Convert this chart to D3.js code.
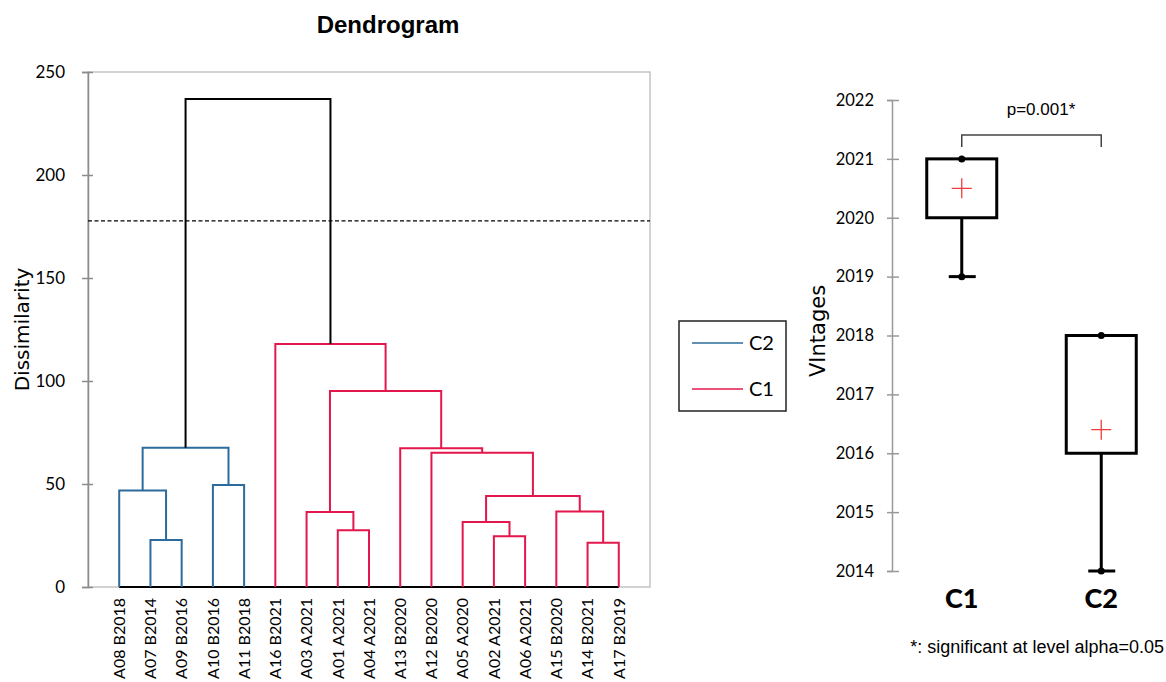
<!DOCTYPE html>
<html>
 <head>
  <meta charset="utf-8" />
  <title>Dendrogram</title>
  <script src="https://cdn.jsdelivr.net/npm/d3@7"></script>
  <style>
    body { margin: 0; background: #fff; }
    text { fill: #000; }
  </style>
 </head>
 <body>
  <script>
    // leaves in drawing order, and the cluster of each one
    var leaves   = ["A08 B2018", "A07 B2014", "A09 B2016", "A10 B2016", "A11 B2018",
                    "A16 B2021", "A03 A2021", "A01 A2021", "A04 A2021", "A13 B2020",
                    "A12 B2020", "A05 A2020", "A02 A2021", "A06 A2021", "A15 B2020",
                    "A14 B2021", "A17 B2019"];
    var clusterOf = ["C2", "C2", "C2", "C2", "C2",
                     "C1", "C1", "C1", "C1", "C1", "C1", "C1", "C1", "C1", "C1", "C1", "C1"];

    // merges: [left node, right node, dissimilarity]; nodes 0..16 are leaves, new nodes start at 17
    var merges = [
      [1, 2, 22.8],    // 17
      [0, 17, 46.8],   // 18
      [3, 4, 49.5],    // 19
      [18, 19, 67.6],  // 20
      [7, 8, 27.5],    // 21
      [6, 21, 36.4],   // 22
      [12, 13, 24.6],  // 23
      [11, 23, 31.6],  // 24
      [15, 16, 21.5],  // 25
      [14, 25, 36.6],  // 26
      [24, 26, 44.2],  // 27
      [10, 27, 65.2],  // 28
      [9, 28, 67.3],   // 29
      [22, 29, 95.1],  // 30
      [5, 30, 118.0],  // 31
      [20, 31, 236.9]  // 32
    ];
    var cutLevel = 177.7;
    var dissTicks = [0, 50, 100, 150, 200, 250];

    var legendItems = ["C2", "C1"];
    var colors = {C2: "#2c6b9c", C1: "#e3174b"};

    // box plot of vintages per class
    var classes   = ["C1", "C2"];
    var vMin      = [2019, 2014];
    var vQ1       = [2020, 2016];
    var vQ3       = [2021, 2018];
    var vMax      = [2021, 2018];
    var vMean     = [2020.5, 2016.4];
    var yearTicks = [2014, 2015, 2016, 2017, 2018, 2019, 2020, 2021, 2022];
    var pText = "p=0.001*";

    var W = 1166, H = 682;
    var svg = d3.select("body").append("svg")
        .attr("width", W).attr("height", H);

    // ---------- dendrogram ----------
    var x = d3.scalePoint().domain(leaves).range([88, 650]).padding(1),
        y = d3.scaleLinear().domain([0, 250]).range([587, 72]);

    svg.append("text")
        .attr("x", 388).attr("y", 33)
        .attr("text-anchor", "middle")
        .style("font", "bold 24px 'Liberation Sans', Arial, sans-serif")
        .text("Dendrogram");

    svg.append("rect")
        .attr("x", 88).attr("y", 72)
        .attr("width", 650 - 88).attr("height", 587 - 72)
        .attr("fill", "none").attr("stroke", "#c4c4c4").attr("stroke-width", 1.5);

    var yAxis = svg.append("g")
        .attr("transform", "translate(88,0)")
        .call(d3.axisLeft(y).tickValues(dissTicks).tickSize(6).tickPadding(17));
    yAxis.select(".domain").attr("stroke", "#8c8c8c").attr("stroke-width", 1.5);
    yAxis.selectAll(".tick line").attr("x1", -6).attr("x2", 5).attr("stroke", "#8c8c8c").attr("stroke-width", 1.5);
    yAxis.selectAll(".tick text")
        .style("font-family", "Lato, sans-serif").style("font-size", "17px").attr("fill", "#222");

    svg.append("text")
        .attr("transform", "translate(29," + y(125) + ") rotate(-90)")
        .attr("text-anchor", "middle")
        .style("font", "20px 'DejaVu Sans', sans-serif")
        .text("Dissimilarity");

    // cut level
    svg.append("line")
        .attr("x1", 88).attr("x2", 650)
        .attr("y1", y(cutLevel)).attr("y2", y(cutLevel))
        .attr("stroke", "#000").attr("stroke-width", 1.2).attr("stroke-dasharray", "4,2.5");

    // baseline under the leaves
    svg.append("line")
        .attr("x1", x(leaves[0])).attr("x2", x(leaves[leaves.length - 1]))
        .attr("y1", y(0)).attr("y2", y(0))
        .attr("stroke", "#000").attr("stroke-width", 2);

    var nodes = leaves.map(function(l, i) { return {x: x(l), h: 0, first: i}; });
    merges.forEach(function(m) {
      var a = nodes[m[0]], b = nodes[m[1]];
      nodes.push({x: (a.x + b.x) / 2, h: m[2], first: a.first, a: a, b: b});
    });

    svg.append("g").selectAll("path")
      .data(nodes.filter(function(n) { return n.a; }))
      .enter().append("path")
        .attr("d", function(n) {
          return "M" + n.a.x + "," + y(n.a.h) + "V" + y(n.h) + "H" + n.b.x + "V" + y(n.b.h);
        })
        .attr("fill", "none")
        .attr("stroke-width", 2)
        .attr("stroke", function(n) { return n.h > cutLevel ? "#000" : colors[clusterOf[n.first]]; });

    svg.append("g").selectAll("text")
      .data(leaves)
      .enter().append("text")
        .attr("transform", function(d) { return "translate(" + x(d) + ",598) rotate(-90)"; })
        .attr("dy", "0.36em")
        .attr("text-anchor", "end")
        .style("font-family", "Lato, sans-serif").style("font-size", "16px")
        .attr("fill", "#222")
        .text(function(d) { return d; });

    // legend
    svg.append("rect")
        .attr("x", 679).attr("y", 321).attr("width", 107).attr("height", 90)
        .attr("fill", "#fff").attr("stroke", "#222").attr("stroke-width", 1.5);
    var leg = svg.append("g").selectAll("g")
      .data(legendItems)
      .enter().append("g")
        .attr("transform", function(d, i) { return "translate(692," + (343 + i * 46) + ")"; });
    leg.append("line")
        .attr("x1", 0).attr("x2", 51)
        .attr("stroke", function(d) { return colors[d]; }).attr("stroke-width", 1.5);
    leg.append("text")
        .attr("x", 57).attr("dy", "0.36em")
        .style("font-family", "Lato, sans-serif").style("font-size", "20px")
        .attr("fill", "#222")
        .text(function(d) { return d; });

    // ---------- box plot ----------
    var bx = d3.scalePoint().domain(classes).range([892, 1171]).padding(0.5),
        by = d3.scaleLinear().domain([2014, 2022]).range([571, 100]);

    var bAxis = svg.append("g")
        .attr("transform", "translate(892,0)")
        .call(d3.axisLeft(by).tickValues(yearTicks).tickFormat(d3.format("d")).tickSize(5).tickPadding(13));
    bAxis.select(".domain").attr("stroke", "#999").attr("stroke-width", 1.5);
    bAxis.selectAll(".tick line").attr("x1", -5).attr("x2", 7).attr("stroke", "#999").attr("stroke-width", 1.5);
    bAxis.selectAll(".tick text")
        .style("font-family", "Lato, sans-serif").style("font-size", "16.5px").attr("fill", "#222");

    svg.append("text")
        .attr("transform", "translate(825,331) rotate(-90)")
        .attr("text-anchor", "middle")
        .style("font", "21px 'DejaVu Sans', sans-serif")
        .text("VIntages");

    var boxes = svg.append("g").selectAll("g")
      .data(classes)
      .enter().append("g");

    boxes.append("line")
        .attr("x1", function(d) { return bx(d); }).attr("x2", function(d) { return bx(d); })
        .attr("y1", function(d, i) { return by(vMin[i]); })
        .attr("y2", function(d, i) { return by(vQ1[i]); })
        .attr("stroke", "#000").attr("stroke-width", 3);
    boxes.append("line")
        .attr("x1", function(d) { return bx(d); }).attr("x2", function(d) { return bx(d); })
        .attr("y1", function(d, i) { return by(vMax[i]); })
        .attr("y2", function(d, i) { return by(vQ3[i]); })
        .attr("stroke", "#000").attr("stroke-width", 3);
    boxes.append("line")
        .attr("x1", function(d) { return bx(d) - 13; }).attr("x2", function(d) { return bx(d) + 14; })
        .attr("y1", function(d, i) { return by(vMin[i]); })
        .attr("y2", function(d, i) { return by(vMin[i]); })
        .attr("stroke", "#000").attr("stroke-width", 3);
    boxes.append("rect")
        .attr("x", function(d) { return bx(d) - 35; })
        .attr("width", 70)
        .attr("y", function(d, i) { return by(vQ3[i]); })
        .attr("height", function(d, i) { return by(vQ1[i]) - by(vQ3[i]); })
        .attr("fill", "#fff").attr("stroke", "#000").attr("stroke-width", 3);
    boxes.append("circle")
        .attr("cx", function(d) { return bx(d); })
        .attr("cy", function(d, i) { return by(vMin[i]); })
        .attr("r", 3.5).attr("fill", "#000");
    boxes.append("circle")
        .attr("cx", function(d) { return bx(d); })
        .attr("cy", function(d, i) { return by(vMax[i]); })
        .attr("r", 3.5).attr("fill", "#000");
    boxes.append("path")
        .attr("d", function(d, i) {
          var cx = bx(d), cy = by(vMean[i]);
          return "M" + (cx - 10) + "," + cy + "H" + (cx + 10) + "M" + cx + "," + (cy - 10) + "V" + (cy + 10);
        })
        .attr("stroke", "#f03c3c").attr("stroke-width", 1.3).attr("fill", "none");

    svg.append("g").selectAll("text")
      .data(classes)
      .enter().append("text")
        .attr("x", function(d) { return bx(d); }).attr("y", 608)
        .attr("text-anchor", "middle")
        .style("font", "900 27px Lato, sans-serif")
        .text(function(d) { return d; });

    // significance bracket
    svg.append("path")
        .attr("d", "M" + bx("C1") + ",147V135H" + bx("C2") + "V147")
        .attr("fill", "none").attr("stroke", "#444").attr("stroke-width", 1.5);
    svg.append("text")
        .attr("x", 1041).attr("y", 115)
        .attr("text-anchor", "middle")
        .style("font", "17px 'Liberation Sans', Arial, sans-serif")
        .text(pText);

    svg.append("text")
        .attr("x", 1164).attr("y", 653)
        .attr("text-anchor", "end")
        .style("font", "18px 'Liberation Sans', Arial, sans-serif")
        .text("*: significant at level alpha=0.05");
  </script>
 </body>
</html>
